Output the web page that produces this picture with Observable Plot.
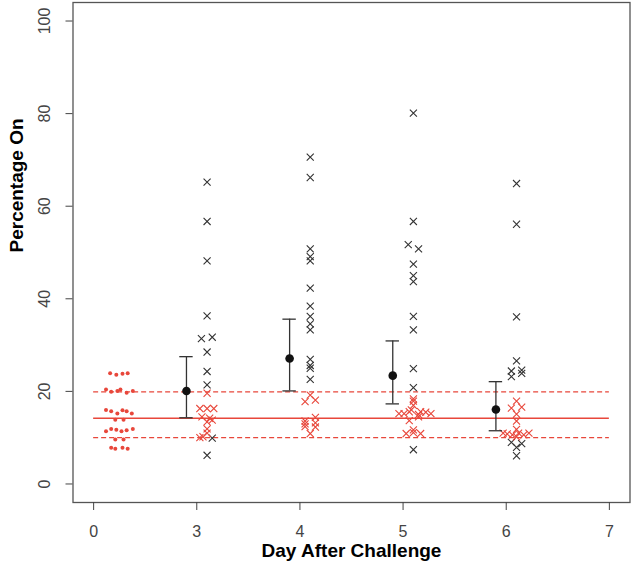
<!DOCTYPE html>
<html><head><meta charset="utf-8">
<script src="https://cdn.jsdelivr.net/npm/d3@7"></script>
<script src="https://cdn.jsdelivr.net/npm/@observablehq/plot@0.6"></script>
<style>body{margin:0;background:#fff}</style>
</head><body><div id="chart"></div>
<script>
// Tick labels of the (equally spaced) day axis
const dayLabels = ["0", "3", "4", "5", "6", "7"];

// Baseline (day 0) percentages and their swarm offsets
const day0Pct = [23.9,23.6,23.8,23.9, 20.4,19.9,20.1,20.4,19.7,20.1, 16.0,15.7,15.2,15.9,15.7,15.2, 13.9,13.9, 11.4,11.9,11.7,11.4,11.6,11.9, 9.6,9.6, 7.8,7.6,7.8,7.6];
const day0Off = [-0.09,-0.03,0.03,0.08, -0.13,-0.08,-0.02,0.01,0.07,0.13, -0.13,-0.08,-0.02,0.03,0.07,0.12, -0.04,0.04, -0.13,-0.08,-0.03,0.02,0.07,0.13, -0.04,0.04, -0.08,-0.04,0.03,0.08];

// Post-challenge individuals: above band (black) and within band (red)
const day3Black = [65.2,56.7,48.2,36.3,31.4,31.7,28.5,24.3,21.4,9.9,6.2];
const day3BlackOff = [0,0,0,0,-0.055,0.05,0,0,0,0.05,0];
const day3Red = [19.6,16.3,16.3,16.3,14.5,14.2,13.8,13.4,11.9,11.0,10.2,10.0];
const day3RedOff = [0,-0.07,0,0.065,-0.05,0.025,0.05,0,0,0,-0.04,-0.07];

const day4Black = [70.6,66.2,50.8,49.1,48.2,42.3,38.4,36.2,34.6,33.3,26.9,25.6,25.0,22.6];
const day4BlackOff = [0,0,0,0,0,0,0,0,0,0,0,0,0,0];
const day4Red = [19.2,17.8,18.1,13.6,13.0,12.4,14.4,13.2,12.3,10.9];
const day4RedOff = [0,-0.05,0.05,-0.05,-0.05,-0.05,0.05,0.05,0.05,0];

const day5Black = [80.1,56.7,51.7,50.8,47.5,45.0,43.7,36.2,33.3,24.9,20.8,7.4];
const day5BlackOff = [0,0,-0.05,0.05,0,0,0,0,0,0,0,0];
const day5Red = [18.4,17.9,17.0,16.0,15.2,15.2,15.6,15.6,15.0,15.5,15.2,13.7,14.5,11.7,11.1,10.9,10.9];
const day5RedOff = [0,0,0,-0.02,-0.14,-0.09,-0.04,0.07,0.05,0.12,0.17,-0.04,0.05,0,0,-0.07,0.07];

const day6Black = [64.9,56.1,36.1,26.6,24.4,23.2,24.6,23.9,9.0,7.9,8.7,6.1];
const day6BlackOff = [0,0,0,0,-0.05,-0.05,0.05,0.05,-0.05,0,0.05,0];
const day6Red = [17.9,16.4,16.6,15.1,13.6,11.8,11.0,10.8,10.6,11.0,10.6,11.0,10.2];
const day6RedOff = [0,-0.05,0.05,0,0,0,-0.13,-0.09,-0.04,0.02,0.07,0.12,0];

// Group summaries (mean with interval)
const summaryDays = ["3", "4", "5", "6"];
const meanPct = [20.1, 27.1, 23.4, 16.1];
const lowPct = [14.3, 20.1, 17.3, 11.5];
const highPct = [27.5, 35.6, 30.9, 22.1];

// Baseline reference band
const baselineMean = 14.2;
const baselineLow = 10.0;
const baselineHigh = 19.9;

const yTicks = [0, 20, 40, 60, 80, 100];

const RED = "#e8473b";
const INK = "#333";
const idx = d => dayLabels.indexOf(String(d));

const day0 = day0Pct.map((v, i) => ({x: idx("0") + 0.25 + day0Off[i], y: v}));
const groups = [
  ["3", day3Black, day3BlackOff, day3Red, day3RedOff],
  ["4", day4Black, day4BlackOff, day4Red, day4RedOff],
  ["5", day5Black, day5BlackOff, day5Red, day5RedOff],
  ["6", day6Black, day6BlackOff, day6Red, day6RedOff]
];
const crosses = [];
for (const [d, bv, bo, rv, ro] of groups) {
  bv.forEach((v, i) => crosses.push({x: idx(d) + 0.1 + bo[i], y: v, c: INK}));
  rv.forEach((v, i) => crosses.push({x: idx(d) + 0.1 + ro[i], y: v, c: RED}));
}
const summary = summaryDays.map((d, i) => ({x: idx(d) - 0.1, mean: meanPct[i], lo: lowPct[i], hi: highPct[i]}));
const caps = summary.flatMap(s => [{x: s.x, y: s.lo}, {x: s.x, y: s.hi}]);
const capHalf = 0.065;

const plot = Plot.plot({
  width: 632, height: 570,
  marginLeft: 72.5, marginRight: 2.5, marginTop: 2, marginBottom: 68,
  style: {fontFamily: "'Liberation Sans', Arial, Helvetica, sans-serif", background: "#fff", overflow: "visible"},
  x: {domain: [-0.2, 5.2]},
  y: {domain: [-4, 104]},
  marks: [
    Plot.ruleY([baselineMean], {x1: idx("0"), x2: idx("7"), stroke: RED, strokeWidth: 1.3}),
    Plot.ruleY([baselineLow, baselineHigh], {x1: idx("0"), x2: idx("7"), stroke: RED, strokeWidth: 1.3, strokeDasharray: "5,3"}),
    Plot.dot(day0, {x: "x", y: "y", r: 2, fill: RED}),
    Plot.dot(crosses, {x: "x", y: "y", symbol: "times", r: 3.3, stroke: "c", strokeWidth: 1.1}),
    Plot.ruleX(summary, {x: "x", y1: "lo", y2: "hi", stroke: INK, strokeWidth: 1.3}),
    Plot.ruleY(caps, {y: "y", x1: d => d.x - capHalf, x2: d => d.x + capHalf, stroke: INK, strokeWidth: 1.3}),
    Plot.dot(summary, {x: "x", y: "mean", r: 4.3, fill: "#111"}),
    Plot.frame({stroke: "#555", strokeWidth: 1.3}),
    Plot.axisX({ticks: d3.range(dayLabels.length), tickFormat: i => dayLabels[i], tickSize: 8, tickPadding: 15, fontSize: 16, label: null, color: "#444"}),
    Plot.axisY({ticks: yTicks, tickSize: 7, tickPadding: 16, tickRotate: -90, fontSize: 16, label: null, color: "#444"}),
    Plot.text(["Day After Challenge"], {frameAnchor: "bottom", dy: 54, fontSize: 19, fontWeight: "bold", fill: "#000"}),
    Plot.text(["Percentage On"], {frameAnchor: "left", dx: -56, rotate: -90, fontSize: 19, fontWeight: "bold", fill: "#000"})
  ]
});
document.getElementById("chart").append(plot);
</script>
</body></html>
